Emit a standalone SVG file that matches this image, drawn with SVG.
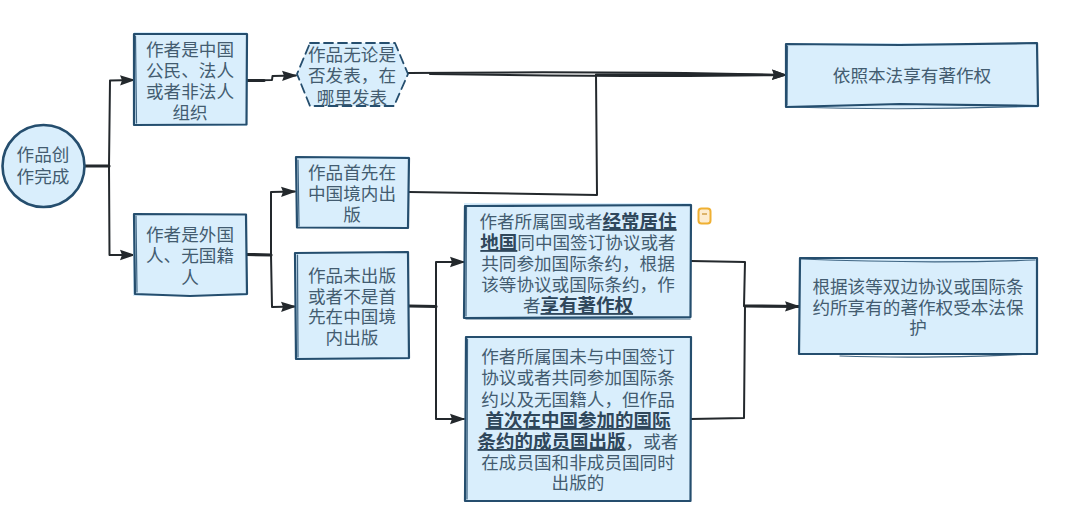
<svg xmlns="http://www.w3.org/2000/svg" width="1080" height="525" viewBox="0 0 1080 525">
<style>
text{font-family:"Noto Sans CJK SC","Noto Sans",sans-serif;font-size:17.6px;fill:#435c70;text-anchor:middle}
.b{font-weight:700;font-size:18.500px;text-decoration:underline;fill:#2f475b}
.fill{fill:#d9eefc;stroke:none}
.o{fill:none;stroke:#254e6e;stroke-width:2.2;stroke-linejoin:round;stroke-linecap:round}
.o2{fill:none;stroke:#254e6e;stroke-width:1.2;stroke-linecap:round;opacity:.85}
.dash{stroke-dasharray:9 5;stroke-width:1.8}
.c{fill:none;stroke:#23282c;stroke-width:2;stroke-linejoin:round;stroke-linecap:round}
.t{fill:none;stroke:#23282c;stroke-width:3.2;stroke-linecap:round}
.a{marker-end:url(#arr)}
</style>
<defs>
<marker id="arr" markerUnits="userSpaceOnUse" markerWidth="16" markerHeight="12" refX="14" refY="6" orient="auto">
<path d="M0 .8L14 5.600 14 6.400 0 11.200 2 6Z" fill="#23282c"/>
</marker>
</defs>
<g id="connectors">
<path class="t" d="M84 166H109"/>
<path class="c a" d="M109 166L110 80.500 134 80"/>
<path class="c a" d="M109 166L109.500 255 134 255"/>
<path class="c a" d="M247 80.500L272 80 272.500 76 296 75.500"/>
<path class="t" d="M247 80.500H264"/>
<path class="c a" d="M408 73C520 72 660 72 786 75"/>
<path class="c" d="M430 74C560 76 680 77 780 75"/>
<path class="c a" d="M409 192L597 195 596 74.500C680 74 730 74 786 75"/>
<path class="t" d="M247 254.500L271 255"/>
<path class="c a" d="M271 255L271 192 295 191.500"/>
<path class="c a" d="M271 255L272 307 295 306.500"/>
<path class="t" d="M409 306L436 306.500"/>
<path class="c a" d="M436 306L436 262 464 262"/>
<path class="c a" d="M436 306L436 419 464 419"/>
<path class="c" d="M691 261L745 262 744 306"/>
<path class="c" d="M691 419L744 418 745 306"/>
<path class="t a" d="M745 306L799 306.500"/>
</g>
<g id="start">
<circle class="fill" cx="43.500" cy="166" r="41"/>
<circle class="o" cx="43.500" cy="166" r="41" style="stroke-width:2.600"/>
<text><tspan x="43" y="161">作品创</tspan><tspan x="43" y="183">作完成</tspan></text>
</g>
<g id="n-chinese">
<rect class="fill" x="134" y="32" width="113" height="94"/>
<path class="o" d="M134 34L247 34 246.500 124.500 134 125Z"/>
<path class="o2" d="M135.500 36L136.500 123"/>
<text><tspan x="190" y="56">作者是中国</tspan><tspan x="190" y="77">公民、法人</tspan><tspan x="190" y="98">或者非法人</tspan><tspan x="190" y="119">组织</tspan></text>
</g>
<g id="n-anywhere">
<path class="fill" d="M310 43H395L408 74 394 106H310L297 74Z"/>
<path class="o dash" d="M310 43H395L408 74 394 106H310L297 74Z"/>
<text><tspan x="352" y="61">作品无论是</tspan><tspan x="352" y="82">否发表，在</tspan><tspan x="352" y="104">哪里发表</tspan></text>
</g>
<g id="n-foreign">
<rect class="fill" x="133" y="214" width="114" height="82"/>
<path class="o" d="M134 214L246 214.500 247 294 190 296 135 294Z"/>
<path class="o2" d="M136 216L137 292"/>
<text><tspan x="190" y="241">作者是外国</tspan><tspan x="190" y="262">人、无国籍</tspan><tspan x="190" y="284">人</tspan></text>
</g>
<g id="n-first">
<rect class="fill" x="296" y="156" width="113" height="72"/>
<path class="o" d="M296 157L409 158 408 228 297 227.500Z"/>
<path class="o2" d="M298 160L299 226"/>
<text><tspan x="352" y="179">作品首先在</tspan><tspan x="352" y="200">中国境内出</tspan><tspan x="352" y="221">版</tspan></text>
</g>
<g id="n-notfirst">
<rect class="fill" x="295" y="252" width="114" height="108"/>
<path class="o" d="M295 253L408 252 409 358 296 359Z"/>
<path class="o2" d="M297.500 255L298 357"/>
<text><tspan x="352" y="282">作品未出版</tspan><tspan x="352" y="303">或者不是首</tspan><tspan x="352" y="323">先在中国境</tspan><tspan x="352" y="344">内出版</tspan></text>
</g>
<g id="n-treaty">
<rect class="fill" x="464" y="203" width="227" height="116"/>
<path class="o" d="M465 206L691 205 690.500 317 464 318Z"/>
<path class="o2" d="M466.500 207L466 316M466 319L690 319"/>
<text><tspan x="578" y="228">作者所属国或者<tspan class="b">经常居住</tspan></tspan><tspan x="578" y="249"><tspan class="b">地国</tspan>同中国签订协议或者</tspan><tspan x="578" y="270">共同参加国际条约，根据</tspan><tspan x="578" y="291">该等协议或国际条约，作</tspan><tspan x="578" y="312">者<tspan class="b">享有著作权</tspan></tspan></text>
</g>
<g id="note">
<rect x="698.500" y="208.500" width="12" height="15" rx="3" fill="#fdecd0" stroke="#efb032" stroke-width="2"/>
<path d="M702 214H707" stroke="#c98f2a" stroke-width="1.200"/>
</g>
<g id="n-member">
<rect class="fill" x="465" y="336" width="226" height="166"/>
<path class="o" d="M466 337L691 337 690.500 501 465 501Z"/>
<path class="o2" d="M467.500 339L467 499"/>
<text><tspan x="578" y="363">作者所属国未与中国签订</tspan><tspan x="578" y="384">协议或者共同参加国际条</tspan><tspan x="578" y="406">约以及无国籍人，但作品</tspan><tspan x="578" y="427" class="b">首次在中国参加的国际</tspan><tspan x="578" y="448"><tspan class="b">条约的成员国出版</tspan>，或者</tspan><tspan x="578" y="469">在成员国和非成员国同时</tspan><tspan x="578" y="489">出版的</tspan></text>
</g>
<g id="n-law">
<rect class="fill" x="786" y="43" width="252" height="65"/>
<path class="o" d="M786 44L900 45 1037 43 1038 106 900 104 786 107Z"/>
<path class="o2" d="M787 107C880 110 960 109 1036 106M787.500 46L787 105"/>
<text x="912" y="82">依照本法享有著作权</text>
</g>
<g id="n-protect">
<rect class="fill" x="799" y="257" width="238" height="98"/>
<path class="o" d="M800 258L1037 258 1037 354 799 354Z"/>
<path class="o2" d="M801 259C900 263 980 262 1035 260M840 356C900 358 980 357 1030 354"/>
<text><tspan x="918" y="293">根据该等双边协议或国际条</tspan><tspan x="918" y="314">约所享有的著作权受本法保</tspan><tspan x="918" y="334">护</tspan></text>
</g>
</svg>
